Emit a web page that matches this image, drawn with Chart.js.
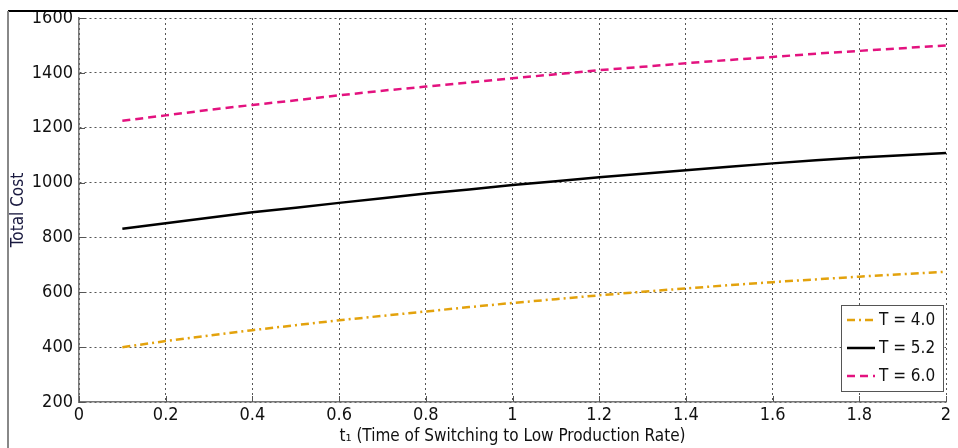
<!DOCTYPE html>
<html>
<head>
<meta charset="utf-8">
<script src="https://cdn.jsdelivr.net/npm/chart.js@4/dist/chart.umd.min.js"></script>
<style>
  body { margin: 0; background: #fff; }
  #wrap { width: 958px; height: 448px; }
</style>
</head>
<body>
<div id="wrap"><canvas id="costchart" width="958" height="448"></canvas></div>
<script>
// t1 values (time of switching)
const tValues = [0.1, 0.2, 0.3, 0.4, 0.5, 0.6, 0.7, 0.8, 0.9, 1.0,
                 1.1, 1.2, 1.3, 1.4, 1.5, 1.6, 1.7, 1.8, 1.9, 2.0];
const costT40 = [400, 422, 442, 462, 480, 498, 514, 530, 546, 561,
                 575, 589, 602, 614, 626, 637, 647, 657, 666, 675];
const costT52 = [832, 852, 872, 892, 908, 926, 943, 960, 975, 991,
                 1005, 1019, 1032, 1045, 1058, 1070, 1081, 1091, 1100, 1108];
const costT60 = [1225, 1245, 1265, 1283, 1300, 1318, 1335, 1350, 1365, 1380,
                 1395, 1410, 1422, 1435, 1447, 1458, 1470, 1480, 1490, 1500];
const seriesLabels = ['T = 4.0', 'T = 5.2', 'T = 6.0'];
const xTickLabels = ['0', '0.2', '0.4', '0.6', '0.8', '1', '1.2', '1.4', '1.6', '1.8', '2'];
const yTickLabels = ['200', '400', '600', '800', '1000', '1200', '1400', '1600'];

const FONT = "'DejaVu Sans Condensed', 'Liberation Sans Narrow', sans-serif";

function toPoints(ys) {
    return ys.map((y, i) => ({ x: tValues[i], y: y }));
}

// outer frame lines, inward ticks, legend box
const framePlugin = {
    id: 'frame',
    afterDraw(chart) {
        const ctx = chart.ctx;
        const area = chart.chartArea;
        ctx.save();
        ctx.strokeStyle = '#000';
        ctx.lineWidth = 2;
        ctx.beginPath();
        ctx.moveTo(8, 11);
        ctx.lineTo(958, 11);
        ctx.stroke();
        ctx.strokeStyle = '#888';
        ctx.beginPath();
        ctx.moveTo(8, 11);
        ctx.lineTo(8, 448);
        ctx.stroke();

        ctx.strokeStyle = '#555';
        ctx.lineWidth = 1;
        const xs = chart.scales.x;
        const ys = chart.scales.y;
        xs.ticks.forEach(t => {
            const px = Math.round(xs.getPixelForValue(t.value)) + 0.5;
            ctx.beginPath();
            ctx.moveTo(px, area.bottom);
            ctx.lineTo(px, area.bottom - 6);
            ctx.stroke();
        });
        ys.ticks.forEach(t => {
            const py = Math.round(ys.getPixelForValue(t.value)) + 0.5;
            ctx.beginPath();
            ctx.moveTo(area.left, py);
            ctx.lineTo(area.left + 6, py);
            ctx.stroke();
        });

        const bx = 841, by = 305, bw = 102, bh = 86;
        ctx.fillStyle = '#fff';
        ctx.fillRect(bx, by, bw, bh);
        ctx.strokeStyle = '#555';
        ctx.strokeRect(bx + 0.5, by + 0.5, bw, bh);
        chart.data.datasets.forEach((ds, i) => {
            const ly = by + 15 + i * 28;
            ctx.strokeStyle = ds.borderColor;
            ctx.lineWidth = ds.borderWidth;
            ctx.setLineDash(ds.borderDash || []);
            ctx.beginPath();
            ctx.moveTo(bx + 6, ly);
            ctx.lineTo(bx + 34, ly);
            ctx.stroke();
            ctx.setLineDash([]);
            ctx.fillStyle = '#111';
            ctx.font = '17px ' + FONT;
            ctx.textBaseline = 'middle';
            ctx.textAlign = 'left';
            ctx.fillText(ds.label, bx + 38, ly + 1);
        });
        ctx.restore();
    }
};

const ctx = document.getElementById('costchart').getContext('2d');
const chart = new Chart(ctx, {
    type: 'line',
    data: {
        datasets: [{
            label: seriesLabels[0],
            data: toPoints(costT40),
            borderColor: '#E3A20C',
            borderWidth: 2.5,
            borderDash: [8, 4, 2, 4],
            pointRadius: 0,
            fill: false,
        }, {
            label: seriesLabels[1],
            data: toPoints(costT52),
            borderColor: '#000000',
            borderWidth: 2.5,
            pointRadius: 0,
            fill: false,
        }, {
            label: seriesLabels[2],
            data: toPoints(costT60),
            borderColor: '#E3127F',
            borderWidth: 2.5,
            borderDash: [8, 5],
            pointRadius: 0,
            fill: false,
        }]
    },
    options: {
        responsive: false,
        animation: false,
        layout: { padding: { top: 18, right: 12, left: 0, bottom: 0 } },
        plugins: {
            legend: { display: false },
            tooltip: { enabled: false },
        },
        scales: {
            x: {
                type: 'linear',
                min: 0,
                max: 2,
                afterFit: (s) => { s.height = 46; },
                afterBuildTicks: (s) => {
                    s.ticks = xTickLabels.map(v => ({ value: parseFloat(v) }));
                },
                ticks: {
                    padding: 3,
                    color: '#111',
                    font: { family: FONT, size: 18 },
                    maxRotation: 0,
                    autoSkip: false,
                    callback: (v, i) => xTickLabels[i],
                },
                grid: { color: '#555', drawTicks: false, lineWidth: 1 },
                border: { display: true, color: '#777', width: 1.5, dash: [2, 3] },
                title: {
                    display: true,
                    text: 't\u2081 (Time of Switching to Low Production Rate)',
                    color: '#111',
                    font: { family: FONT, size: 17 },
                    padding: { top: 0, bottom: 1 },
                }
            },
            y: {
                min: 200,
                max: 1600,
                afterFit: (s) => { s.width = 79; },
                afterBuildTicks: (s) => {
                    s.ticks = yTickLabels.map(v => ({ value: parseFloat(v) }));
                },
                ticks: {
                    padding: 6,
                    color: '#111',
                    font: { family: FONT, size: 18 },
                    autoSkip: false,
                    callback: (v, i) => yTickLabels[i],
                },
                grid: { color: '#555', drawTicks: false, lineWidth: 1 },
                border: { display: true, color: '#777', width: 1.5, dash: [2, 3] },
                title: {
                    display: true,
                    text: 'Total Cost',
                    color: '#1a1a40',
                    font: { family: FONT, size: 17 },
                    padding: { top: 8, bottom: 0 },
                }
            }
        }
    },
    plugins: [framePlugin]
});
</script>
</body>
</html>
